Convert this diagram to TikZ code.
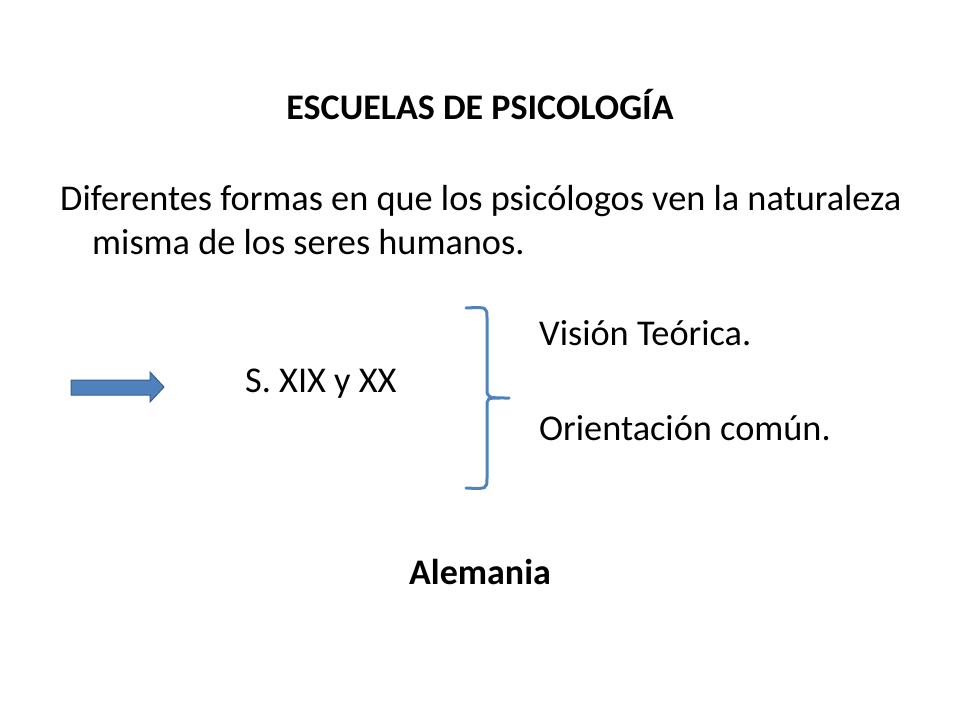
\documentclass[tikz,border=0pt]{standalone}
\usepackage{fontspec}
\setmainfont{Carlito}
\begin{document}
\begin{tikzpicture}[x=1pt,y=-1pt,
  txt/.style={inner sep=0pt,font=\fontsize{36.3}{44}\selectfont},
  ttl/.style={inner sep=0pt,font=\bfseries\fontsize{36}{44}\selectfont},
]
\definecolor{bl}{RGB}{79,129,189}
\definecolor{bld}{RGB}{56,93,138}
\useasboundingbox (0,0) rectangle (960,720);
\node[ttl] (title) at (480,105) {ESCUELAS DE PSICOLOGÍA};
\node[txt,anchor=west] (l1) at (60,201) {Diferentes formas en que los psicólogos ven la naturaleza};
\node[txt,anchor=west] (l2) at (92,242) {misma de los seres humanos.};
\node[txt,anchor=west] (v) at (539,333) {Visión Teórica.};
\node[txt,anchor=west] (s) at (245,384) {S. XIX y XX};
\node[txt,anchor=west] (o) at (539,428) {Orientación común.};
\node[ttl] (al) at (480,572) {Alemania};
\coordinate (ar) at (117,387);
\filldraw[draw=bld,fill=bl,line width=1pt,line join=miter]
  (71,380) -- (150,380) -- (150,372) -- (164,387) -- (150,402) -- (150,395) -- (71,395) -- cycle;
\draw[draw=bl,line width=3pt,line cap=round] (466,308) .. controls (487,307) .. (487,318) -- (487,388)
  .. controls (487,398) .. (509,398) (487,408) .. controls (487,398) .. (500,398)
  (487,408) -- (487,478) .. controls (487,489) .. (466,488);
\end{tikzpicture}
\end{document}
